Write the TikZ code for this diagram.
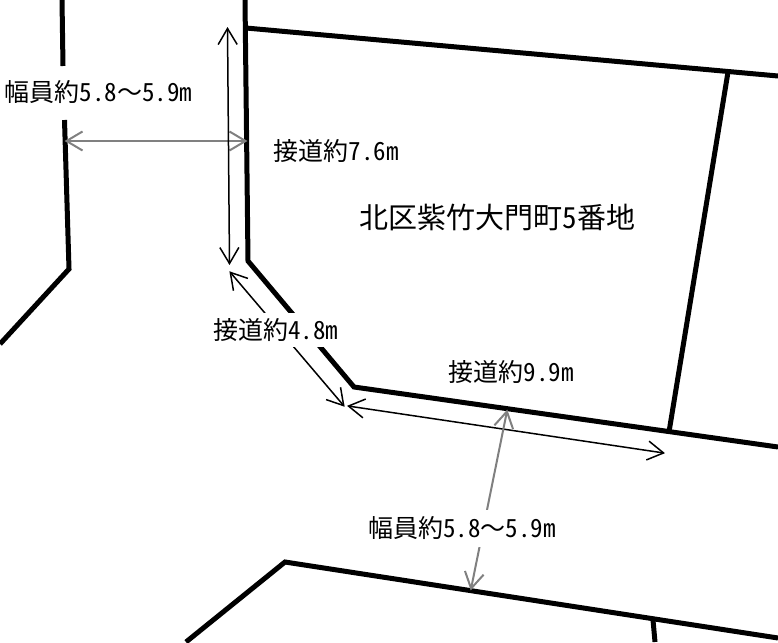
\documentclass[tikz,border=0pt]{standalone}
\usepackage{fontspec}
\newfontfamily\cjk[RawFeature=+hwid]{Noto Sans CJK JP}
\newfontfamily\cjkwave{Noto Sans CJK JP}
\usetikzlibrary{arrows.meta}
\pgfarrowsdeclare{vbarb}{vbarb}{\pgfarrowsleftextend{-16pt}\pgfarrowsrightextend{0.5pt}}
{\pgfsetmiterjoin
\pgfpathmoveto{\pgfpoint{-16pt}{9.5pt}}
\pgfpathlineto{\pgfpointorigin}
\pgfpathlineto{\pgfpoint{-16pt}{-9.5pt}}
\pgfusepathqstroke}
\begin{document}
\begin{tikzpicture}[x=1pt,y=-1pt]
\tikzstyle{every node}=[inner sep=0pt,font=\cjk\fontsize{25}{28}\selectfont]
\tikzstyle{plotline}=[line width=5pt,miter limit=10]
\tikzstyle{blackdim}=[vbarb-vbarb,line width=1.5pt,black]
\tikzstyle{graydim}=[vbarb-vbarb,line width=2pt,black!50]
\useasboundingbox (0,0) rectangle (778,642);
% boundary lines
\draw[plotline] (62,0) -- (63,66);
\draw[plotline] (64.5,120) -- (69,269) -- (0,344);
\draw[plotline] (245,0) -- (248,261) -- (354,387) -- (778,447);
\draw[plotline] (246,28) -- (778,76);
\draw[plotline] (728,72) -- (669,432);
\draw[plotline] (186,642) -- (285,562) -- (778,638);
\draw[plotline] (653,620) -- (655,642);
% end points of the arrows
\coordinate (roadL) at (66,141);
\coordinate (roadR) at (246,141);
\coordinate (frontAa) at (227.5,28);
\coordinate (frontAb) at (229.5,264);
\coordinate (frontBa) at (230,272);
\coordinate (frontBb) at (344,406);
\coordinate (frontCa) at (348,406);
\coordinate (frontCb) at (664,453);
\coordinate (roadT) at (507,411);
\coordinate (roadB) at (471,589);
\draw[graydim] (roadL) -- (roadR);
\draw[blackdim] (frontAa) -- (frontAb);
\draw[blackdim] (frontBa) -- (frontBb);
\draw[blackdim] (frontCa) -- (frontCb);
\draw[graydim] (roadT) -- (roadB);
% labels
\node (widthA) at (98.5,92) {幅員約5.8{\cjkwave〜}5.9m};
\node (lenA) at (336,151) {接道約7.6m};
\node[font=\cjk\fontsize{29}{32}\selectfont] (addr) at (497.5,217) {北区紫竹大門町5番地};
\node[fill=white,minimum height=34pt,inner xsep=2pt] (lenB) at (275.5,330) {接道約4.8m};
\node (lenC) at (511,372) {接道約9.9m};
\node[fill=white,minimum height=37pt,inner xsep=2pt] (widthB) at (462,528) {幅員約5.8{\cjkwave〜}5.9m};
\end{tikzpicture}
\end{document}
